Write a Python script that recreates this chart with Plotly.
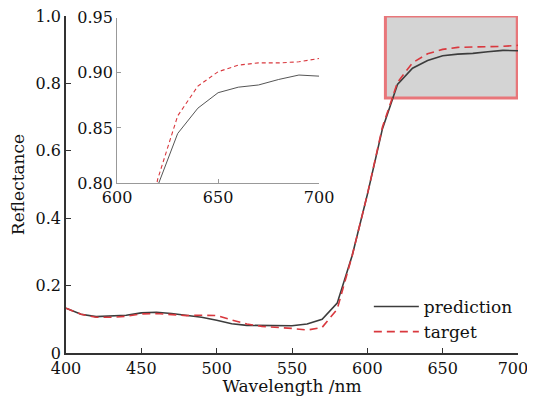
import plotly.graph_objects as go

wavelength = list(range(400, 701, 10))
prediction = [0.133, 0.115, 0.108, 0.109, 0.112, 0.119, 0.121, 0.117, 0.111, 0.106,
              0.097, 0.087, 0.082, 0.081, 0.081, 0.081, 0.086, 0.100, 0.148, 0.290,
              0.470, 0.665, 0.797, 0.845, 0.868, 0.882, 0.887, 0.889, 0.894, 0.898, 0.897]
target = [0.133, 0.115, 0.106, 0.106, 0.109, 0.116, 0.117, 0.115, 0.111, 0.112,
          0.111, 0.098, 0.086, 0.079, 0.077, 0.073, 0.068, 0.076, 0.130, 0.290,
          0.470, 0.670, 0.803, 0.861, 0.888, 0.901, 0.907, 0.909, 0.909, 0.910, 0.913]

main_xticks = [400, 450, 500, 550, 600, 650, 700]
# last label padded with no-break spaces so it is not clipped at the right edge
main_xticklabels = ["400", "450", "500", "550", "600", "650", "700\u00a0\u00a0"]
main_yticks = [0, 0.2, 0.4, 0.6, 0.8, 1.0]
main_yticklabels = ["0", "0.2", "0.4", "0.6", "0.8", "1.0"]
inset_xticks = [600, 650, 700]
inset_yticks = [0.80, 0.85, 0.90, 0.95]
inset_yticklabels = ["0.80", "0.85", "0.90", "0.95"]
zoom_box = dict(x0=612, x1=699.5, y0=0.757, y1=1.0)

FONT = "DejaVu Serif"
PRED_COLOR = "#3c3c3c"
TARG_COLOR = "#d9383e"

fig = go.Figure()
fig.add_trace(go.Scatter(x=wavelength, y=prediction, mode="lines", name="prediction",
                         line=dict(color=PRED_COLOR, width=1.6)))
fig.add_trace(go.Scatter(x=wavelength, y=target, mode="lines", name="target",
                         line=dict(color=TARG_COLOR, width=1.6, dash="8px,5px")))
fig.add_trace(go.Scatter(x=wavelength, y=prediction, mode="lines", showlegend=False,
                         xaxis="x2", yaxis="y2", line=dict(color="#555555", width=1)))
fig.add_trace(go.Scatter(x=wavelength, y=target, mode="lines", showlegend=False,
                         xaxis="x2", yaxis="y2", line=dict(color=TARG_COLOR, width=1.1, dash="4px,3px")))

fig.add_shape(type="rect", xref="x", yref="y", layer="below",
              x0=zoom_box["x0"], x1=zoom_box["x1"], y0=zoom_box["y0"], y1=zoom_box["y1"],
              line=dict(color="#e8767a", width=3), fillcolor="#d4d4d4")

axis_font = dict(family=FONT, size=16, color="#111")
fig.update_layout(
    width=527, height=388,
    margin=dict(l=58, r=17, t=8, b=43),
    paper_bgcolor="white", plot_bgcolor="white",
    font=dict(family=FONT, size=16, color="#111"),
    xaxis=dict(range=[400, 700], tickvals=main_xticks, ticktext=main_xticklabels,
               ticks="inside", ticklen=5,
               showline=True, linecolor="#333", linewidth=1.5, tickcolor="#333",
               showgrid=False, zeroline=False, tickfont=axis_font, automargin=False,
               ticklabeloverflow="allow",
               title=dict(text="Wavelength /nm", font=dict(family=FONT, size=17), standoff=0)),
    yaxis=dict(range=[0, 1.0], tickvals=main_yticks, ticktext=main_yticklabels,
               ticks="inside", ticklen=5, automargin=False, ticklabeloverflow="allow",
               showline=True, linecolor="#333", linewidth=1.5, tickcolor="#333",
               showgrid=False, zeroline=False, tickfont=axis_font,
               title=dict(text="Reflectance", font=dict(family=FONT, size=17), standoff=9)),
    xaxis2=dict(domain=[0.113, 0.560], anchor="y2", range=[600, 700], tickvals=inset_xticks,
                ticks="inside", ticklen=4, showline=True, linecolor="#999", linewidth=1,
                tickcolor="#999", showgrid=False, zeroline=False, tickfont=axis_font,
                automargin=False, ticklabeloverflow="allow"),
    yaxis2=dict(domain=[0.504, 0.995], anchor="x2", range=[0.80, 0.95], tickvals=inset_yticks,
                ticktext=inset_yticklabels, ticks="inside", ticklen=4, showline=True,
                linecolor="#999", linewidth=1, tickcolor="#999", showgrid=False,
                zeroline=False, tickfont=axis_font, automargin=False,
                ticklabeloverflow="allow"),
    legend=dict(x=0.67, y=0.19, xanchor="left", yanchor="top", bgcolor="rgba(0,0,0,0)",
                font=dict(family=FONT, size=17, color="#111"), itemwidth=45,
                tracegroupgap=0),
    showlegend=True,
)

fig.write_html("out.html")
